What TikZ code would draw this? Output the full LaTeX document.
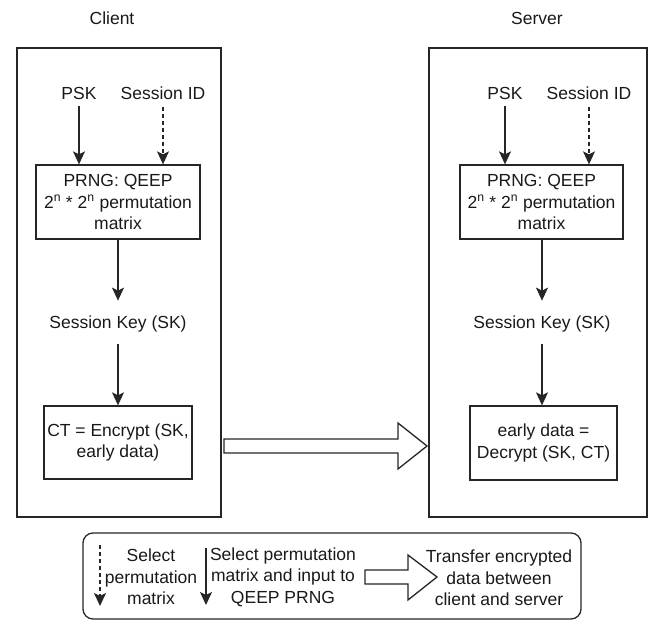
\documentclass[tikz,border=0pt]{standalone}
\usepackage{fontspec}
\setmainfont{Liberation Sans}
\usetikzlibrary{arrows.meta}
\begin{document}
\begin{tikzpicture}[x=1pt,y=-1pt,
  every node/.style={font=\fontsize{17.5}{21.5}\selectfont, align=center, inner sep=0pt, text=black!90},
  line/.style={draw=black!85, line width=1.3pt},
  frame/.style={line, rectangle},
  arr/.style={line, -{Stealth[length=13pt,width=12pt,inset=3pt]}},
  darr/.style={arr, dash pattern=on 4pt off 3pt},
  fat/.style={line, fill=white, line join=miter}]
\useasboundingbox (0,0) rectangle (657,621);

% titles
\node (ctitle) at (112,18) {Client};
\node (stitle) at (537,18) {Server};

% containers
\node[frame, minimum width=204pt, minimum height=469pt] (client) at (119,282.5) {};
\node[frame, minimum width=218pt, minimum height=469pt] (server) at (538,282.5) {};

% client side
\node (cpsk) at (79,93) {PSK};
\node (csid) at (163,93) {Session ID};
\node[frame, minimum width=164pt, minimum height=74pt] (cprng) at (118,202) {PRNG: QEEP\\2\textsuperscript{n} * 2\textsuperscript{n} permutation\\matrix};
\node (csk) at (118,324) {Session Key (SK)};
\node[frame, minimum width=148pt, minimum height=73pt] (cct) at (118,442.5) {CT = Encrypt (SK,\\early data)};

\draw[arr, shorten <=7pt] (cpsk.south) -- (cpsk.south |- cprng.north);
\draw[darr, shorten <=7pt] (csid.south) -- (csid.south |- cprng.north);
\draw[arr, shorten >=15pt] (cprng.south) -- (cprng.south |- csk.north);
\draw[arr, shorten <=12pt] (csk.south) -- (csk.south |- cct.north);

% server side
\node (spsk) at (505,93) {PSK};
\node (ssid) at (589,93) {Session ID};
\node[frame, minimum width=163pt, minimum height=74pt] (sprng) at (541.5,202) {PRNG: QEEP\\2\textsuperscript{n} * 2\textsuperscript{n} permutation\\matrix};
\node (ssk) at (542,324) {Session Key (SK)};
\node[frame, minimum width=147pt, minimum height=74pt] (sdec) at (543.5,443) {early data =\\Decrypt (SK, CT)};

\draw[arr, shorten <=7pt] (spsk.south) -- (spsk.south |- sprng.north);
\draw[darr, shorten <=7pt] (ssid.south) -- (ssid.south |- sprng.north);
\draw[arr, shorten >=15pt] (ssk.north |- sprng.south) -- (ssk.north);
\draw[arr, shorten <=12pt] (ssk.south) -- (ssk.south |- sdec.north);

% transfer arrow
\draw[fat] (224,439) -- (398,439) -- (398,423) -- (427,446) -- (398,469) -- (398,453) -- (224,453) -- cycle;

% legend
\node[frame, rounded corners=10pt, minimum width=498pt, minimum height=86pt] (legend) at (332,576) {};
\coordinate (ld1) at (100,545);
\coordinate (ld2) at (100,606);
\coordinate (ls1) at (206,548);
\coordinate (ls2) at (206,605);
\draw[darr] (ld1) -- (ld2);
\draw[arr] (ls1) -- (ls2);
\node (lt1) at (151,577) {Select\\permutation\\matrix};
\node (lt2) at (283,577) {Select permutation\\matrix and input to\\QEEP PRNG};
\draw[fat] (365,570) -- (408,570) -- (408,555) -- (437,577) -- (408,600) -- (408,584) -- (365,584) -- cycle;
\node (lt3) at (499,578) {Transfer encrypted\\data between\\client and server};
\end{tikzpicture}
\end{document}
